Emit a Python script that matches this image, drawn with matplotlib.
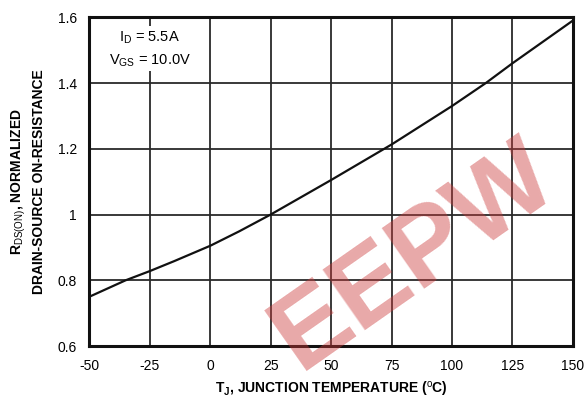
import matplotlib
matplotlib.use("Agg")
import matplotlib.pyplot as plt

plt.rcParams['font.family'] = ['Liberation Sans', 'DejaVu Sans']
plt.rcParams['mathtext.fontset'] = 'custom'
plt.rcParams['mathtext.rm'] = 'Liberation Sans'
plt.rcParams['mathtext.bf'] = 'Liberation Sans:bold'
plt.rcParams['axes.unicode_minus'] = False

# values
temp_c = [-50, -35, -25, -15, 0, 12, 25, 50, 75, 100, 114, 125, 150]
r_norm = [0.75, 0.80, 0.828, 0.858, 0.905, 0.949, 1.0, 1.105, 1.213, 1.33, 1.40, 1.46, 1.59]

x_ticks = [-50, -25, 0, 25, 50, 75, 100, 125, 150]
x_labels = ['-50', '-25', '0', '25', '50', '75', '100', '125', '150']
y_ticks = [0.6, 0.8, 1.0, 1.2, 1.4, 1.6]
y_labels = ['0.6', '0.8', '1', '1.2', '1.4', '1.6']

fig = plt.figure(figsize=(5.84, 4.01), dpi=100)
ax = fig.add_axes([0.153, 0.137, 0.828, 0.82])

ax.plot(temp_c, r_norm, color='#111111', lw=1.6, zorder=3)

ax.set_xlim(-50, 150)
ax.set_ylim(0.6, 1.6)
ax.set_xticks(x_ticks)
ax.set_xticklabels(x_labels, fontsize=10)
ax.set_yticks(y_ticks)
ax.set_yticklabels(y_labels, fontsize=10)
ax.tick_params(length=0, pad=9)
ax.grid(True, color='#2a2a2a', lw=1.3)
for s in ax.spines.values():
    s.set_linewidth(2.2)
    s.set_color('#111111')

ax.text(-25, 1.504, 'I$_\\mathrm{D}$ = 5.5A\nV$_\\mathrm{GS}$ = 10.0V',
        ha='center', va='center', fontsize=10.5, linespacing=1.5,
        bbox=dict(facecolor='white', edgecolor='none', pad=2), zorder=4)

ax.set_xlabel('T$_\\mathbf{J}$, JUNCTION TEMPERATURE ($^\\mathrm{o}$C)',
              fontsize=10, fontweight='bold', labelpad=5)

fig.text(0.032, 0.547, 'R$_\\mathrm{DS(ON)}$, NORMALIZED', rotation=90,
         ha='center', va='center', fontsize=10, fontweight='bold')
fig.text(0.066, 0.547, 'DRAIN-SOURCE ON-RESISTANCE', rotation=90,
         ha='center', va='center', fontsize=10, fontweight='bold')

# watermark, kept inside the figure
fig.text(0.71, 0.36, 'EEPW', rotation=35, ha='center', va='center',
         fontsize=78, fontweight='bold', color='#cc3a3a', alpha=0.44,
         zorder=10)

fig.savefig('out.png', dpi=100)
